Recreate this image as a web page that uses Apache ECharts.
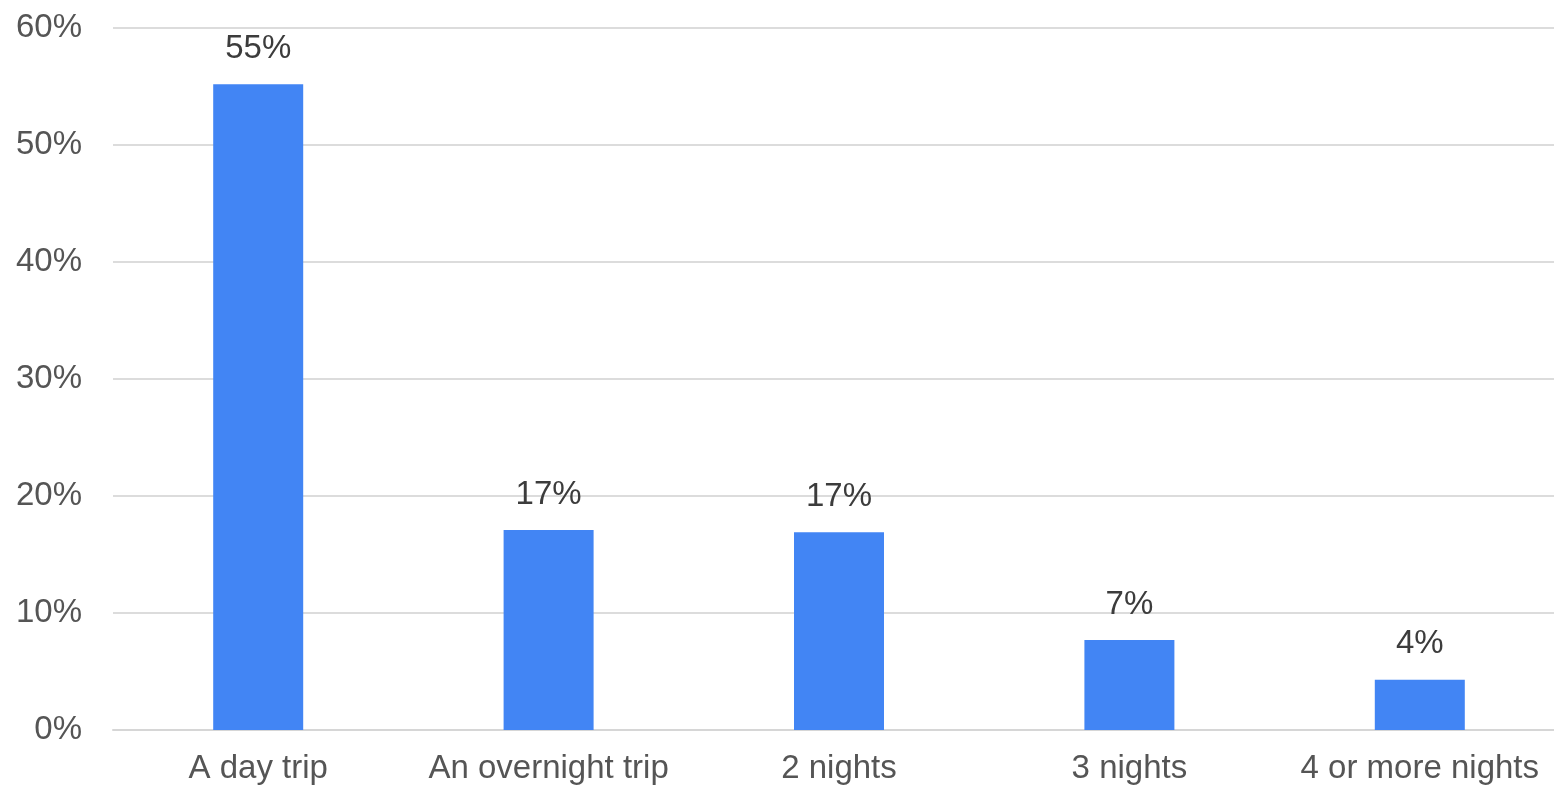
<!DOCTYPE html>
<html>
<head>
<meta charset="utf-8">
<script src="https://cdn.jsdelivr.net/npm/echarts@6/dist/echarts.min.js"></script>
<style>
html,body{margin:0;padding:0;background:#fff;overflow:hidden;width:1554px;height:788px;}
#chart{width:1565px;height:788px;}
</style>
</head>
<body>
<div id="chart"></div>
<script>
var categories = ["A day trip", "An overnight trip", "2 nights", "3 nights", "4 or more nights"];
var values = [55.2, 17.1, 16.9, 7.7, 4.3];
var valueLabels = ["55%", "17%", "17%", "7%", "4%"];
var yTicks = { min: 0, max: 60, interval: 10 };

var FONT = 'Liberation Sans, Arial, sans-serif';
var chart = echarts.init(document.getElementById('chart'), null, { renderer: 'canvas' });
chart.setOption({
  animation: false,
  backgroundColor: '#ffffff',
  grid: { left: 113, right: 0, top: 28, bottom: 58, containLabel: false },
  xAxis: {
    type: 'category',
    data: categories,
    axisLine: { show: true, lineStyle: { color: '#d6d6d6', width: 2 } },
    axisTick: { show: false },
    axisLabel: { color: '#555555', fontSize: 33, fontFamily: FONT, margin: 22, interval: 0 }
  },
  yAxis: {
    type: 'value',
    min: yTicks.min, max: yTicks.max, interval: yTicks.interval,
    axisLine: { show: false },
    axisTick: { show: false },
    splitLine: { show: true, lineStyle: { color: '#dcdcdc', width: 2 } },
    axisLabel: { color: '#555555', fontSize: 33, fontFamily: FONT, margin: 31, formatter: '{value}%' }
  },
  series: [{
    type: 'bar',
    data: values,
    barWidth: 90,
    itemStyle: { color: '#4285F4' },
    label: {
      show: true,
      position: 'top',
      distance: 19,
      color: '#3c3c3c',
      fontSize: 33,
      fontFamily: FONT,
      formatter: function (p) { return valueLabels[p.dataIndex]; }
    }
  }]
});
</script>
</body>
</html>
